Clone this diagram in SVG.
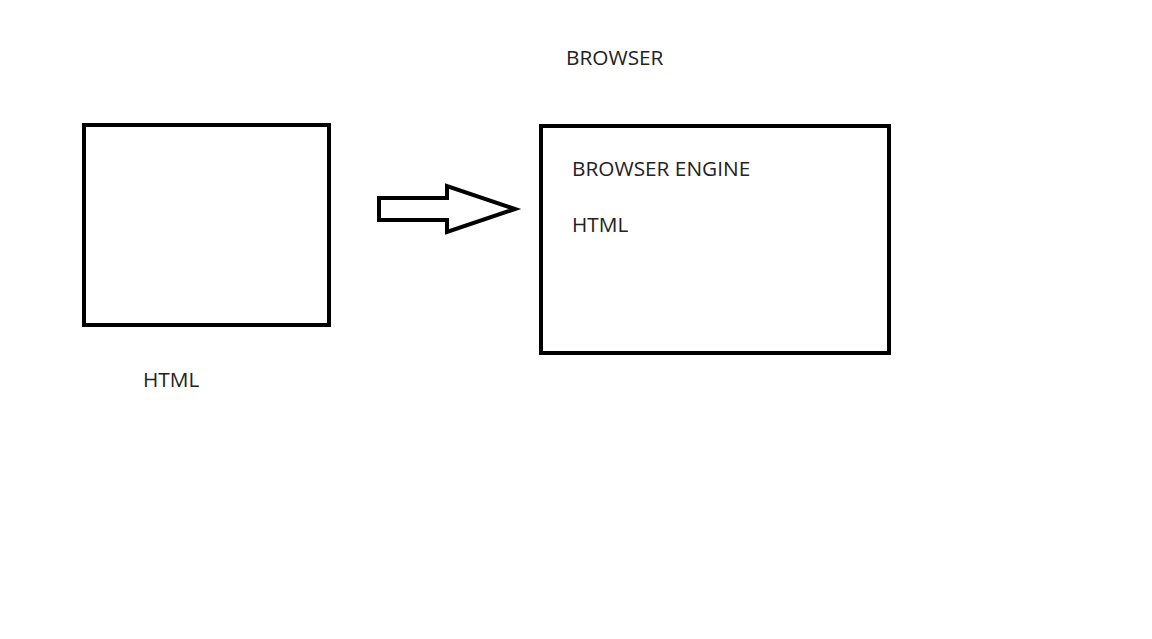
<svg xmlns="http://www.w3.org/2000/svg" width="1152" height="639" viewBox="0 0 1152 639">
<style>
.box{fill:#fff;stroke:#000;stroke-width:4}
.t{font-family:"Open Sans","Noto Sans",sans-serif;font-size:20.8px;fill:#222}
</style>
<rect width="1152" height="639" fill="#fff"/>
<g id="html-box">
<rect class="box" x="84" y="125" width="245" height="200"/>
<text class="t" x="143" y="387">HTML</text>
</g>
<g id="browser">
<text class="t" x="566" y="65">BROWSER</text>
<rect class="box" x="541" y="126" width="348" height="227"/>
<text class="t" x="572" y="176">BROWSER ENGINE</text>
<text class="t" x="572" y="232">HTML</text>
</g>
<g id="connectors">
<polygon class="box" stroke-linejoin="miter" points="379,198 447,198 447,186 515,209 447,232 447,220 379,220"/>
</g>
</svg>
